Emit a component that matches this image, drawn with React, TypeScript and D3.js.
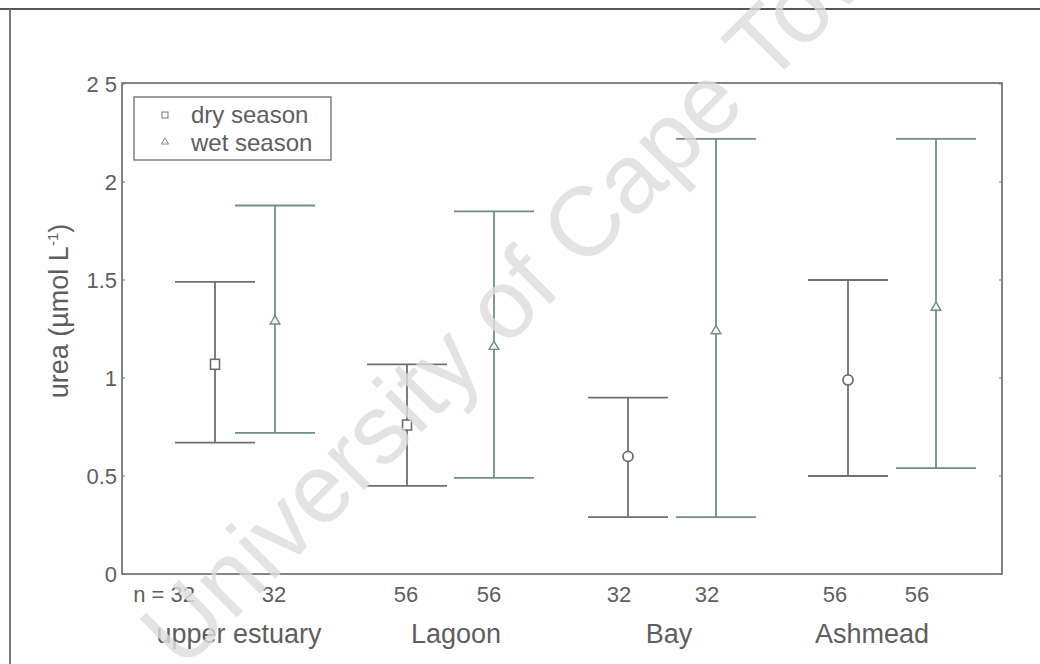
import React from "react";
import * as d3 from "d3";

const sites = ["upper estuary", "Lagoon", "Bay", "Ashmead"];
const seasons = ["dry season", "wet season"];
const dryMean = [1.07, 0.76, 0.6, 0.99];
const dryHigh = [1.49, 1.07, 0.9, 1.5];
const dryLow = [0.67, 0.45, 0.29, 0.5];
const dryMarker = ["square", "square", "circle", "circle"];
const wetMean = [1.29, 1.16, 1.24, 1.36];
const wetHigh = [1.88, 1.85, 2.22, 2.22];
const wetLow = [0.72, 0.49, 0.29, 0.54];
const dryN = ["n = 32", "56", "32", "56"];
const wetN = ["32", "56", "32", "56"];
const yTicks = [0, 0.5, 1, 1.5, 2, 2.5];
const yTickLabels = ["0", "0.5", "1", "1.5", "2", "2 5"];

const W = 1040;
const H = 664;
const left = 122;
const right = 1002;
const top = 83;
const bottom = 574;

const font = "'Liberation Sans', Arial, sans-serif";
const dryColor = "#6f6f6f";
const wetColor = "#6f8e88";
const textColor = "#5e5e5e";

export default function App() {
  const y = d3.scaleLinear().domain([0, 2.5]).range([bottom, 84]);
  const site = d3.scaleOrdinal<string, number>().domain(sites).range([215, 407, 628, 848]);
  const wetOffset = d3.scaleOrdinal<string, number>().domain(sites).range([60, 87, 88, 88]);
  const labelX = d3.scaleOrdinal<string, number>().domain(sites).range([239, 456, 669, 872]);
  const nDryX = d3.scaleOrdinal<string, number>().domain(sites).range([195, 406, 619, 835]);
  const nWetX = d3.scaleOrdinal<string, number>().domain(sites).range([274, 489, 707, 917]);
  const capHalf = 40;

  const rows = sites.map((s, i) => ({
    s,
    i,
    xd: site(s),
    xw: site(s) + wetOffset(s),
  }));

  const tri = d3.symbol().type(d3.symbolTriangle).size(40)();
  const triSmall = d3.symbol().type(d3.symbolTriangle).size(22)();

  return (
    <svg
      width={W}
      height={H}
      style={{ position: "absolute", left: 0, top: 0, background: "#fff" }}
      fontFamily={font}
    >
      <rect x={0} y={0} width={W} height={H} fill="#fefefe" />
      {/* outer frame of the scan */}
      <line x1={0} x2={W} y1={9} y2={9} stroke="#555" strokeWidth={2} />
      <line x1={10} x2={10} y1={9} y2={H} stroke="#777" strokeWidth={2} />

      {/* plot box */}
      <rect x={left} y={top} width={right - left} height={bottom - top} fill="none" stroke="#666" strokeWidth={1.6} />

      {/* y ticks */}
      {yTicks.map((t, i) => (
        <g key={"yt" + i}>
          <line x1={left} x2={left + 3} y1={y(t)} y2={y(t)} stroke="#777" strokeWidth={1} />
          <line x1={right} x2={right - 3} y1={y(t)} y2={y(t)} stroke="#777" strokeWidth={1} />
          <text x={left - 5} y={y(t)} dy="0.36em" textAnchor="end" fontSize={22} fill={textColor}>
            {yTickLabels[i]}
          </text>
        </g>
      ))}

      {/* y axis label */}
      <text transform={`translate(68, ${311}) rotate(-90)`} textAnchor="middle" fontSize={27} fill={textColor}>
        urea (µmol L<tspan dy={-10} fontSize={15}>-1</tspan>
        <tspan dy={10}>)</tspan>
      </text>

      {/* error bars */}
      {rows.map((r) => (
        <g key={r.s}>
          <line x1={r.xd} x2={r.xd} y1={y(dryHigh[r.i])} y2={y(dryLow[r.i])} stroke={dryColor} strokeWidth={1.8} />
          <line x1={r.xd - capHalf} x2={r.xd + capHalf} y1={y(dryHigh[r.i])} y2={y(dryHigh[r.i])} stroke={dryColor} strokeWidth={1.8} />
          <line x1={r.xd - capHalf} x2={r.xd + capHalf} y1={y(dryLow[r.i])} y2={y(dryLow[r.i])} stroke={dryColor} strokeWidth={1.8} />
          {dryMarker[r.i] === "square" ? (
            <rect x={r.xd - 4.5} y={y(dryMean[r.i]) - 5} width={9} height={10} fill="#fff" stroke={dryColor} strokeWidth={1.6} />
          ) : (
            <circle cx={r.xd} cy={y(dryMean[r.i])} r={5} fill="#fff" stroke={dryColor} strokeWidth={1.8} />
          )}

          <line x1={r.xw} x2={r.xw} y1={y(wetHigh[r.i])} y2={y(wetLow[r.i])} stroke={wetColor} strokeWidth={1.8} />
          <line x1={r.xw - capHalf} x2={r.xw + capHalf} y1={y(wetHigh[r.i])} y2={y(wetHigh[r.i])} stroke={wetColor} strokeWidth={1.8} />
          <line x1={r.xw - capHalf} x2={r.xw + capHalf} y1={y(wetLow[r.i])} y2={y(wetLow[r.i])} stroke={wetColor} strokeWidth={1.8} />
          <path d={tri} transform={`translate(${r.xw},${y(wetMean[r.i])})`} fill="#eef3f1" stroke={wetColor} strokeWidth={1.4} />

          {/* n labels */}
          <text
            x={nDryX(r.s)}
            y={602}
            textAnchor={r.i === 0 ? "end" : "middle"}
            fontSize={22}
            fill={textColor}
          >
            {dryN[r.i]}
          </text>
          <text x={nWetX(r.s)} y={602} textAnchor="middle" fontSize={22} fill={textColor}>
            {wetN[r.i]}
          </text>
          {/* site labels */}
          <text x={labelX(r.s)} y={643} textAnchor="middle" fontSize={27} fill={textColor}>
            {r.s}
          </text>
        </g>
      ))}

      {/* legend */}
      <rect x={134} y={97} width={197} height={63} fill="#fff" stroke="#777" strokeWidth={1.4} />
      <rect x={162} y={112} width={6} height={6} fill="#fff" stroke="#777" strokeWidth={1} />
      <path d={triSmall} transform="translate(165,142)" fill="#fff" stroke="#889" strokeWidth={1} />
      <text x={191} y={123} fontSize={24} fill={textColor}>{seasons[0]}</text>
      <text x={191} y={151} fontSize={24} fill={textColor}>{seasons[1]}</text>

      {/* watermark */}
      <text
        transform="translate(182, 672) rotate(-45)"
        fontSize={98}
        fill="#dcdcdc"
        fillOpacity={0.8}
        fontFamily={font}
      >
        University of Cape Town
      </text>
    </svg>
  );
}
